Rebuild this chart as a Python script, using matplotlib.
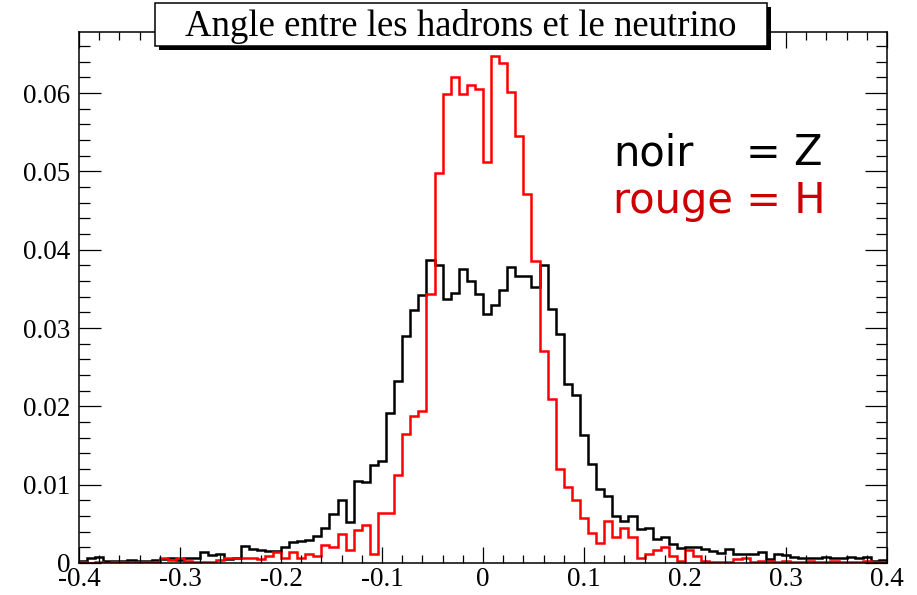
import numpy as np
import matplotlib.pyplot as plt
from matplotlib.patches import Rectangle
from matplotlib.ticker import FixedLocator, MultipleLocator, FixedFormatter

# Histogram range (100 bins between -0.4 and 0.4)
x_min, x_max = -0.4, 0.4

# noir = Z
z_noir = [
    0.0003, 0.0006, 0.0008, 0.0002, 0.0003, 0.0003, 0.0004, 0.0003, 0.0003, 0.0004,
    0.0005, 0.0006, 0.0004, 0.0006, 0.0006, 0.0014, 0.0010, 0.0011, 0.0005, 0.0006,
    0.0022, 0.0018, 0.0017, 0.0015, 0.0015, 0.0021, 0.0027, 0.0028, 0.0030, 0.0035,
    0.0045, 0.0062, 0.0080, 0.0052, 0.0105, 0.0103, 0.0125, 0.0130, 0.0192, 0.0232,
    0.0290, 0.0323, 0.0342, 0.0387, 0.0380, 0.0337, 0.0345, 0.0375, 0.0360, 0.0344,
    0.0318, 0.0330, 0.0348, 0.0378, 0.0367, 0.0367, 0.0353, 0.0380, 0.0324, 0.0293,
    0.0229, 0.0214, 0.0163, 0.0127, 0.0094, 0.0086, 0.0060, 0.0054, 0.0060, 0.0044,
    0.0045, 0.0031, 0.0033, 0.0024, 0.0019, 0.0021, 0.0021, 0.0018, 0.0015, 0.0013,
    0.0018, 0.0011, 0.0011, 0.0012, 0.0014, 0.0005, 0.0011, 0.0010, 0.0008, 0.0007,
    0.0007, 0.0006, 0.0008, 0.0006, 0.0006, 0.0008, 0.0006, 0.0008, 0.0003, 0.0004,
]

# rouge = H
h_rouge = [
    0.0001, 0.0000, 0.0001, 0.0000, 0.0001, 0.0001, 0.0000, 0.0001, 0.0001, 0.0001,
    0.0006, 0.0004, 0.0006, 0.0002, 0.0001, 0.0001, 0.0001, 0.0004, 0.0007, 0.0006,
    0.0007, 0.0006, 0.0005, 0.0009, 0.0014, 0.0007, 0.0014, 0.0007, 0.0011, 0.0009,
    0.0023, 0.0021, 0.0037, 0.0016, 0.0042, 0.0049, 0.0012, 0.0064, 0.0064, 0.0112,
    0.0165, 0.0188, 0.0194, 0.0344, 0.0498, 0.0599, 0.0620, 0.0599, 0.0610, 0.0605,
    0.0512, 0.0647, 0.0639, 0.0602, 0.0545, 0.0471, 0.0386, 0.0271, 0.0209, 0.0120,
    0.0097, 0.0080, 0.0058, 0.0038, 0.0026, 0.0054, 0.0033, 0.0045, 0.0033, 0.0007,
    0.0012, 0.0017, 0.0020, 0.0009, 0.0003, 0.0016, 0.0009, 0.0003, 0.0001, 0.0001,
    0.0001, 0.0005, 0.0006, 0.0001, 0.0002, 0.0003, 0.0001, 0.0002, 0.0001, 0.0001,
    0.0002, 0.0001, 0.0001, 0.0002, 0.0001, 0.0001, 0.0001, 0.0002, 0.0001, 0.0001,
]

x_ticks = [-0.4, -0.3, -0.2, -0.1, 0.0, 0.1, 0.2, 0.3, 0.4]
x_labels = ["-0.4", "-0.3", "-0.2", "-0.1", "0", "0.1", "0.2", "0.3", "0.4"]
y_ticks = [0.0, 0.01, 0.02, 0.03, 0.04, 0.05, 0.06]
y_labels = ["0", "0.01", "0.02", "0.03", "0.04", "0.05", "0.06"]

title = "Angle entre les hadrons et le neutrino"

W, H = 917, 595
serif = ["Liberation Serif", "DejaVu Serif"]

fig = plt.figure(figsize=(W / 100, H / 100), dpi=100)
ax = fig.add_axes([79 / W, 1 - 563 / H, (887 - 79) / W, (563 - 32) / H])

edges = np.linspace(x_min, x_max, len(z_noir) + 1)
ax.stairs(z_noir, edges, color="black", lw=1.8)
ax.stairs(h_rouge, edges, color="red", lw=1.8)

ax.set_xlim(x_min, x_max)
ax.set_ylim(0, 0.0678)

ax.xaxis.set_major_locator(FixedLocator(x_ticks))
ax.xaxis.set_major_formatter(FixedFormatter(x_labels))
ax.xaxis.set_minor_locator(MultipleLocator(0.02))
ax.yaxis.set_major_locator(FixedLocator(y_ticks))
ax.yaxis.set_major_formatter(FixedFormatter(y_labels))
ax.yaxis.set_minor_locator(MultipleLocator(0.002))

ax.tick_params(which="both", direction="in", top=True, right=True, width=0.9)
ax.tick_params(axis="x", which="major", length=11.5, pad=3)
ax.tick_params(axis="x", which="minor", length=6)
ax.tick_params(axis="y", which="major", length=16, pad=6)
ax.tick_params(axis="y", which="minor", length=8)
for lab in ax.get_xticklabels() + ax.get_yticklabels():
    lab.set_family(serif)
    lab.set_fontsize(19.5)
for sp in ax.spines.values():
    sp.set_linewidth(1.1)

# title box with shadow (ROOT style)
bx0, by0, bx1, by1 = 155, 3, 767, 46
shadow = Rectangle(((bx0 + 4) / W, 1 - (by1 + 4) / H), (bx1 - bx0) / W, (by1 - by0) / H,
                   transform=fig.transFigure, fc="black", ec="black", lw=0)
box = Rectangle((bx0 / W, 1 - by1 / H), (bx1 - bx0) / W, (by1 - by0) / H,
                transform=fig.transFigure, fc="white", ec="black", lw=1.1)
fig.add_artist(shadow)
fig.add_artist(box)
fig.text((bx0 + bx1) / 2 / W, 1 - 26 / H, title, ha="center", va="center",
         family=serif, fontsize=26.5)

# legend text
fig.text(613 / W, 1 - 165 / H, "noir", color="black", fontsize=30,
         family="DejaVu Sans", va="baseline")
fig.text(746 / W, 1 - 165 / H, "= Z", color="black", fontsize=30,
         family="DejaVu Sans", va="baseline")
fig.text(613 / W, 1 - 213 / H, "rouge = H", color="#cc0000", fontsize=30,
         family="DejaVu Sans", va="baseline")

fig.savefig("out.png", dpi=100)
